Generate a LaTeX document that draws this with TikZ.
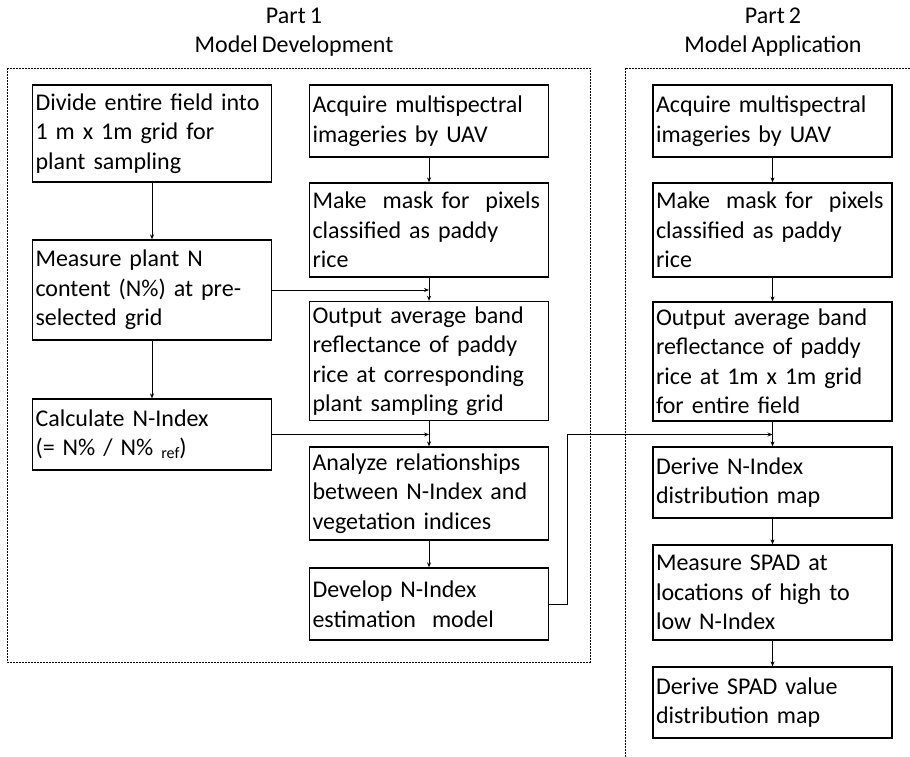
\documentclass[tikz,border=0pt]{standalone}
\usepackage{fontspec}
\setmainfont{Carlito}[WordSpace=0.75]
\usetikzlibrary{arrows.meta}
\begin{document}
\begin{tikzpicture}[x=1pt,y=-1pt,
  every node/.style={font=\fontsize{24}{29.5}\selectfont},
  box/.style={draw, line width=1.3pt, inner xsep=3pt, inner ysep=1pt,
    text width=233pt, align=left, anchor=center},
  conn/.style={line width=0.9pt, -{Stealth[length=5pt,width=4pt]}},
  frame/.style={line width=0.7pt, dash pattern=on 2pt off 1pt}]
\useasboundingbox (0,0) rectangle (910,757);
% titles
\node[align=center] (t1) at (294,32) {Part 1\\Model Development};
\node[align=center] (t2) at (773,32) {Part 2\\Model Application};
% frames
\draw[frame] (7,68) rectangle (590,662);
\draw[frame] (910,68) -- (625,68) -- (625,757);
% left column
\node[box, minimum height=97pt] (b1) at (152,133.5) {Divide entire field into\\1 m x 1m grid for\\plant sampling};
\node[box, minimum height=100pt] (b2) at (152,290) {Measure plant N\\content (N\%) at pre-\\selected grid};
\node[box, minimum height=71pt] (b3) at (152,434.5) {Calculate N-Index\\(= N\% / N\% {\fontsize{16}{16}\selectfont\raisebox{-0.4ex}{ref}})};
% middle column
\node[box, minimum height=72pt] (m1) at (429,121) {Acquire multispectral\\imageries by UAV};
\node[box, minimum height=94pt] (m2) at (429,230) {Make\ \ mask for\ \ pixels\\classified as paddy\\rice};
\node[box, minimum height=119pt] (m3) at (429,361) {Output average band\\reflectance of paddy\\rice at corresponding\\plant sampling grid};
\node[box, minimum height=93pt] (m4) at (429,493.5) {Analyze relationships\\between N-Index and\\vegetation indices};
\node[box, minimum height=72pt] (m5) at (429,604) {Develop N-Index\\estimation\ \ model};
% right column
\node[box, minimum height=72pt] (r1) at (772.5,121) {Acquire multispectral\\imageries by UAV};
\node[box, minimum height=94pt] (r2) at (772.5,230) {Make\ \ mask for\ \ pixels\\classified as paddy\\rice};
\node[box, minimum height=119pt] (r3) at (772.5,361.5) {Output average band\\reflectance of paddy\\rice at 1m x 1m grid\\for entire field};
\node[box, minimum height=71pt] (r4) at (772.5,482.5) {Derive N-Index\\distribution map};
\node[box, minimum height=95pt] (r5) at (772.5,592.5) {Measure SPAD at\\locations of high to\\low N-Index};
\node[box, minimum height=71pt] (r6) at (772.5,702.5) {Derive SPAD value\\distribution map};
% junction coordinates
\coordinate (j1) at (m2.south |- b2.east);
\coordinate (j2) at (m3.south |- b3.east);
\coordinate (j3) at (r3.south |- b3.east);
\coordinate (k) at (567,604);
% vertical connectors
\draw[conn] (b1) -- (b2);
\draw[conn] (b2) -- (b3);
\draw[conn] (m1) -- (m2);
\draw[conn] (m2) -- (m3);
\draw[conn] (m3) -- (m4);
\draw[conn] (m4) -- (m5);
\draw[conn] (r1) -- (r2);
\draw[conn] (r2) -- (r3);
\draw[conn] (r3) -- (r4);
\draw[conn] (r4) -- (r5);
\draw[conn] (r5) -- (r6);
% horizontal connectors
\draw[conn] (b2.east) -- (j1);
\draw[conn] (b3.east) -- (j2);
\draw[conn] (m5.east) -- (k) |- (j3);
\end{tikzpicture}
\end{document}
